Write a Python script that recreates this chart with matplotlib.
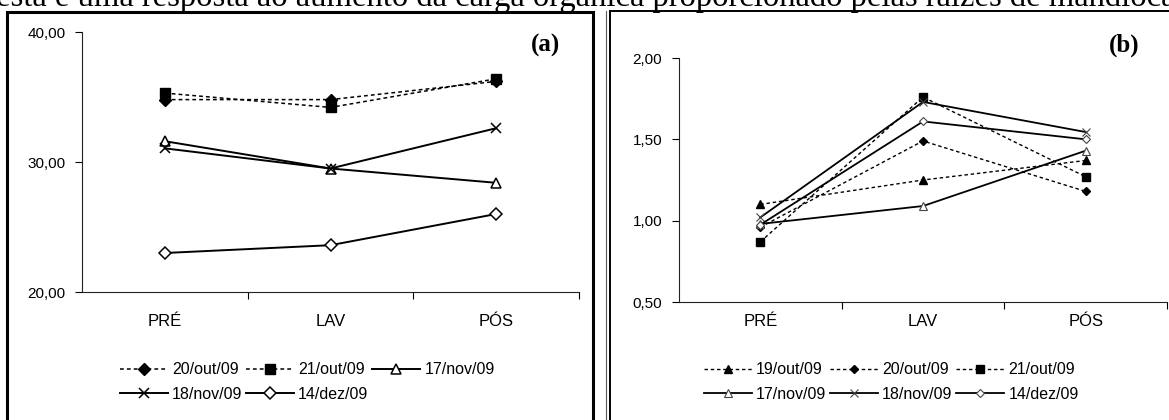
import matplotlib.pyplot as plt
from matplotlib.patches import Rectangle
from matplotlib.lines import Line2D

fases = ['PRÉ', 'LAV', 'PÓS']

# painel (a)
datas_a = ['20/out/09', '21/out/09', '17/nov/09', '18/nov/09', '14/dez/09']
a_20out = [34.8, 34.8, 36.2]
a_21out = [35.3, 34.2, 36.4]
a_17nov = [31.6, 29.5, 28.4]
a_18nov = [31.05, 29.5, 32.6]
a_14dez = [23.0, 23.6, 26.0]
yticks_a = [20, 30, 40]
ylabels_a = ['20,00', '30,00', '40,00']

# painel (b)
datas_b = ['19/out/09', '20/out/09', '21/out/09', '17/nov/09', '18/nov/09', '14/dez/09']
b_19out = [1.10, 1.25, 1.37]
b_20out = [0.96, 1.49, 1.18]
b_21out = [0.87, 1.76, 1.27]
b_17nov = [0.98, 1.09, 1.43]
b_18nov = [1.02, 1.73, 1.545]
b_14dez = [0.975, 1.61, 1.50]
yticks_b = [0.5, 1.0, 1.5, 2.0]
ylabels_b = ['0,50', '1,00', '1,50', '2,00']

texto_topo = 'esta é uma resposta ao aumento da carga orgânica proporcionado pelas raízes de mandioca'

W, H = 1169, 420
fig = plt.figure(figsize=(W / 100, H / 100), dpi=100)
plt.rcParams['font.family'] = ['Liberation Sans', 'DejaVu Sans']

tracejado = (0, (2.5, 2))
x = list(range(len(fases)))


def eixo(ax, yt, yl, ylim, pad_x):
    ax.set_xlim(-0.5, 2.5)
    ax.set_ylim(*ylim)
    ax.set_yticks(yt)
    ax.set_yticklabels(yl)
    ax.set_xticks(x)
    ax.set_xticklabels(fases)
    ax.set_xticks([0.5, 1.5, 2.5], minor=True)
    ax.tick_params(axis='x', which='major', length=0, pad=pad_x, labelsize=12)
    ax.tick_params(axis='x', which='minor', length=5, width=0.8, direction='out')
    ax.tick_params(axis='y', length=5, width=0.8, direction='out', labelsize=11, pad=7)
    for s in ['top', 'right']:
        ax.spines[s].set_visible(False)
    for s in ['left', 'bottom']:
        ax.spines[s].set_linewidth(0.8)
        ax.spines[s].set_color('#222222')
    ax.patch.set_alpha(0)


# ---- (a)
ax1 = fig.add_axes([82 / W, 1 - 292 / H, 497 / W, 260 / H])
ms = 6.5
l1 = ax1.plot(x, a_20out, color='k', lw=1.1, ls=tracejado, marker='D', ms=ms, mfc='k', mec='k', label=datas_a[0])[0]
l2 = ax1.plot(x, a_21out, color='k', lw=1.1, ls=tracejado, marker='s', ms=ms, mfc='k', mec='k', label=datas_a[1])[0]
l3 = ax1.plot(x, a_17nov, color='k', lw=1.4, marker='^', ms=ms, mfc='white', mec='k', mew=1.1, label=datas_a[2])[0]
l4 = ax1.plot(x, a_18nov, color='k', lw=1.4, marker='x', ms=ms + 1, mec='k', mew=1.1, label=datas_a[3])[0]
l5 = ax1.plot(x, a_14dez, color='k', lw=1.4, marker='D', ms=ms - 0.5, mfc='white', mec='k', mew=1.1, label=datas_a[4])[0]
eixo(ax1, yticks_a, ylabels_a, (20, 40), 16)
ax1.text(546 / W, 1 - 45 / H, '(a)', transform=fig.transFigure, ha='center', va='center',
         fontsize=18, fontweight='bold', family=['Liberation Serif'])
ordem = [l1, l4, l2, l5, l3]
fig.legend(ordem, [h.get_label() for h in ordem], loc='center left', ncol=3,
           bbox_to_anchor=(120 / W, 1 - 382 / H), frameon=False, fontsize=11.5,
           handlelength=3.0, handletextpad=0.25, columnspacing=0.25, labelspacing=0.6,
           borderaxespad=0, borderpad=0)

# ---- (b)
ax2 = fig.add_axes([679 / W, 1 - 302 / H, 488 / W, 244 / H])
ms = 5.5
m1 = ax2.plot(x, b_19out, color='k', lw=1.0, ls=tracejado, marker='^', ms=ms, mfc='k', mec='k', label=datas_b[0])[0]
m2 = ax2.plot(x, b_20out, color='k', lw=1.0, ls=tracejado, marker='D', ms=ms - 1.5, mfc='k', mec='k', label=datas_b[1])[0]
m3 = ax2.plot(x, b_21out, color='k', lw=1.0, ls=tracejado, marker='s', ms=ms + 0.5, mfc='k', mec='k', label=datas_b[2])[0]
m4 = ax2.plot(x, b_17nov, color='k', lw=1.3, marker='^', ms=ms, mfc='white', mec='#444444', mew=0.8, label=datas_b[3])[0]
m5 = ax2.plot(x, b_18nov, color='k', lw=1.3, marker='x', ms=ms + 0.5, mec='#444444', mew=0.8, label=datas_b[4])[0]
m6 = ax2.plot(x, b_14dez, color='k', lw=1.3, marker='D', ms=ms - 1, mfc='white', mec='#444444', mew=0.8, label=datas_b[5])[0]
eixo(ax2, yticks_b, ylabels_b, (0.5, 2.0), 9)
ax2.text(1124 / W, 1 - 45 / H, '(b)', transform=fig.transFigure, ha='center', va='center',
         fontsize=18, fontweight='bold', family=['Liberation Serif'])
ordem = [m1, m4, m2, m5, m3, m6]
fig.legend(ordem, [h.get_label() for h in ordem], loc='center left', ncol=3,
           bbox_to_anchor=(704 / W, 1 - 382 / H), frameon=False, fontsize=11.5,
           handlelength=3.0, handletextpad=0.25, columnspacing=0.25, labelspacing=0.6,
           borderaxespad=0, borderpad=0)

# molduras e texto cortado do documento
fig.add_artist(Rectangle((7 / W, -0.1), 586 / W, 0.1 + 1 - 12 / H, transform=fig.transFigure,
                         fill=False, lw=2.2, ec='k'))
fig.add_artist(Rectangle((610 / W, -0.1), 600 / W, 0.1 + 1 - 11 / H, transform=fig.transFigure,
                         fill=False, lw=1.4, ec='k'))
fig.add_artist(Line2D([606 / W, 606 / W], [0, 1 - 11 / H], transform=fig.transFigure, lw=0.8, color='#555555'))
fig.text(-4 / W, 1 - 6 / H, texto_topo, ha='left', va='baseline', fontsize=23.5, family=['Liberation Serif'])

fig.savefig('out.png', dpi=100)
